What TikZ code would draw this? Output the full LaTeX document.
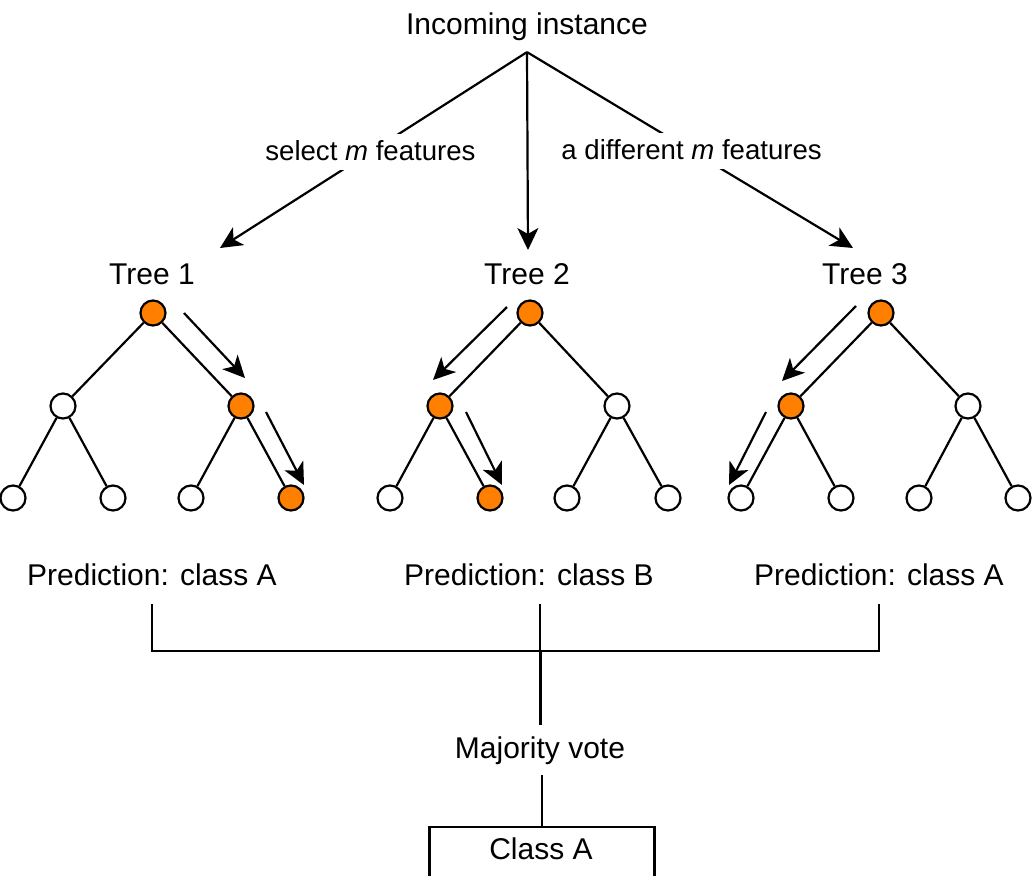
\documentclass[tikz,border=0pt]{standalone}
\usepackage{fontspec}
\setmainfont{Liberation Sans}
\usetikzlibrary{arrows.meta}
\definecolor{pathorange}{HTML}{FF8000}

\begin{document}
\begin{tikzpicture}[x=0.5pt, y=-0.5pt, line width=1.1pt, font=\fontsize{15}{18}\selectfont,
        txt/.style={text height=11pt, text depth=3pt, inner sep=2pt},
        lbl/.style={txt, fill=white, font=\fontsize{13.8}{16}\selectfont},
        arr/.style={-{Stealth[length=11pt, width=10.5pt, inset=3pt]}},
        vertex/.style={circle, draw, fill=white, minimum size=12.5pt, inner sep=0pt},
        hit/.style={vertex, fill=pathorange}]
        \useasboundingbox (0, 0) rectangle (1035, 875);

        \node[txt, inner ysep=5.5pt] (In) at (527, 26) {Incoming instance};
        \coordinate (A1) at (220, 248);
        \coordinate (A2) at (528, 250);
        \coordinate (A3) at (853, 248);
        \draw[arr] (In.south) -- node[lbl, pos=0.51] {select \textit{m} features} (A1);
        \draw[arr] (In.south) -- (A2);
        \draw[arr] (In.south) -- node[lbl, pos=0.505] {a different \textit{m} features} (A3);

        \node[txt] (L1) at (152, 276) {Tree 1};
        \node[txt] (L2) at (527, 276) {Tree 2};
        \node[txt] (L3) at (865, 276) {Tree 3};

        \node[hit] (T1) at (153, 313) {};
        \node[vertex] (T1L) at (63, 406) {};
        \node[hit] (T1R) at (241, 406) {};
        \node[vertex] (T1LL) at (13, 498) {};
        \node[vertex] (T1LR) at (113, 498) {};
        \node[vertex] (T1RL) at (191, 498) {};
        \node[hit] (T1RR) at (291, 498) {};
        \draw (T1) -- (T1L);
        \draw (T1) -- (T1R);
        \draw (T1L) -- (T1LL);
        \draw (T1L) -- (T1LR);
        \draw (T1R) -- (T1RL);
        \draw (T1R) -- (T1RR);

        \node[hit] (T2) at (530, 313) {};
        \node[hit] (T2L) at (440, 406) {};
        \node[vertex] (T2R) at (617, 406) {};
        \node[vertex] (T2LL) at (390, 498) {};
        \node[hit] (T2LR) at (490, 498) {};
        \node[vertex] (T2RL) at (567, 498) {};
        \node[vertex] (T2RR) at (668, 498) {};
        \draw (T2) -- (T2L);
        \draw (T2) -- (T2R);
        \draw (T2L) -- (T2LL);
        \draw (T2L) -- (T2LR);
        \draw (T2R) -- (T2RL);
        \draw (T2R) -- (T2RR);

        \node[hit] (T3) at (881, 313) {};
        \node[hit] (T3L) at (791, 406) {};
        \node[vertex] (T3R) at (968, 406) {};
        \node[vertex] (T3LL) at (741, 498) {};
        \node[vertex] (T3LR) at (841, 498) {};
        \node[vertex] (T3RL) at (919, 498) {};
        \node[vertex] (T3RR) at (1018, 498) {};
        \draw (T3) -- (T3L);
        \draw (T3) -- (T3R);
        \draw (T3L) -- (T3LL);
        \draw (T3L) -- (T3LR);
        \draw (T3R) -- (T3RL);
        \draw (T3R) -- (T3RR);

        \coordinate (G1a) at (184, 313);
        \coordinate (G1b) at (245, 378);
        \coordinate (G1c) at (266, 412);
        \coordinate (G1d) at (304, 485);
        \coordinate (G2a) at (507, 307);
        \coordinate (G2b) at (433, 380);
        \coordinate (G2c) at (466, 412);
        \coordinate (G2d) at (502, 485);
        \coordinate (G3a) at (856, 306);
        \coordinate (G3b) at (782, 381);
        \coordinate (G3c) at (766, 412);
        \coordinate (G3d) at (729, 485);
        \draw[arr] (G1a) -- (G1b);
        \draw[arr] (G1c) -- (G1d);
        \draw[arr] (G2a) -- (G2b);
        \draw[arr] (G2c) -- (G2d);
        \draw[arr] (G3a) -- (G3b);
        \draw[arr] (G3c) -- (G3d);

        \node[txt, inner ysep=6pt] (P1) at (152, 577) {Prediction: class A};
        \node[txt, inner ysep=6pt] (P2) at (529, 577) {Prediction: class B};
        \node[txt, inner ysep=6pt] (P3) at (879, 577) {Prediction: class A};
        \node[txt, inner ysep=5pt] (MV) at (540, 750) {Majority vote};
        \node[draw, anchor=north, minimum width=112.5pt, minimum height=27pt, inner sep=0pt] (CA) at (542, 826) {};
        \node[txt] (CAt) at (541, 851) {Class A};
        \coordinate (J) at (540, 651);

        \draw (P1.south) |- (J) -| (P3.south);
        \draw (P2.south -| J) -- (J);
        \draw[line width=1.5pt] (J) -- (MV.north);
        \draw (MV.south -| CA.north) -- (CA.north);
    \end{tikzpicture}
\end{document}
